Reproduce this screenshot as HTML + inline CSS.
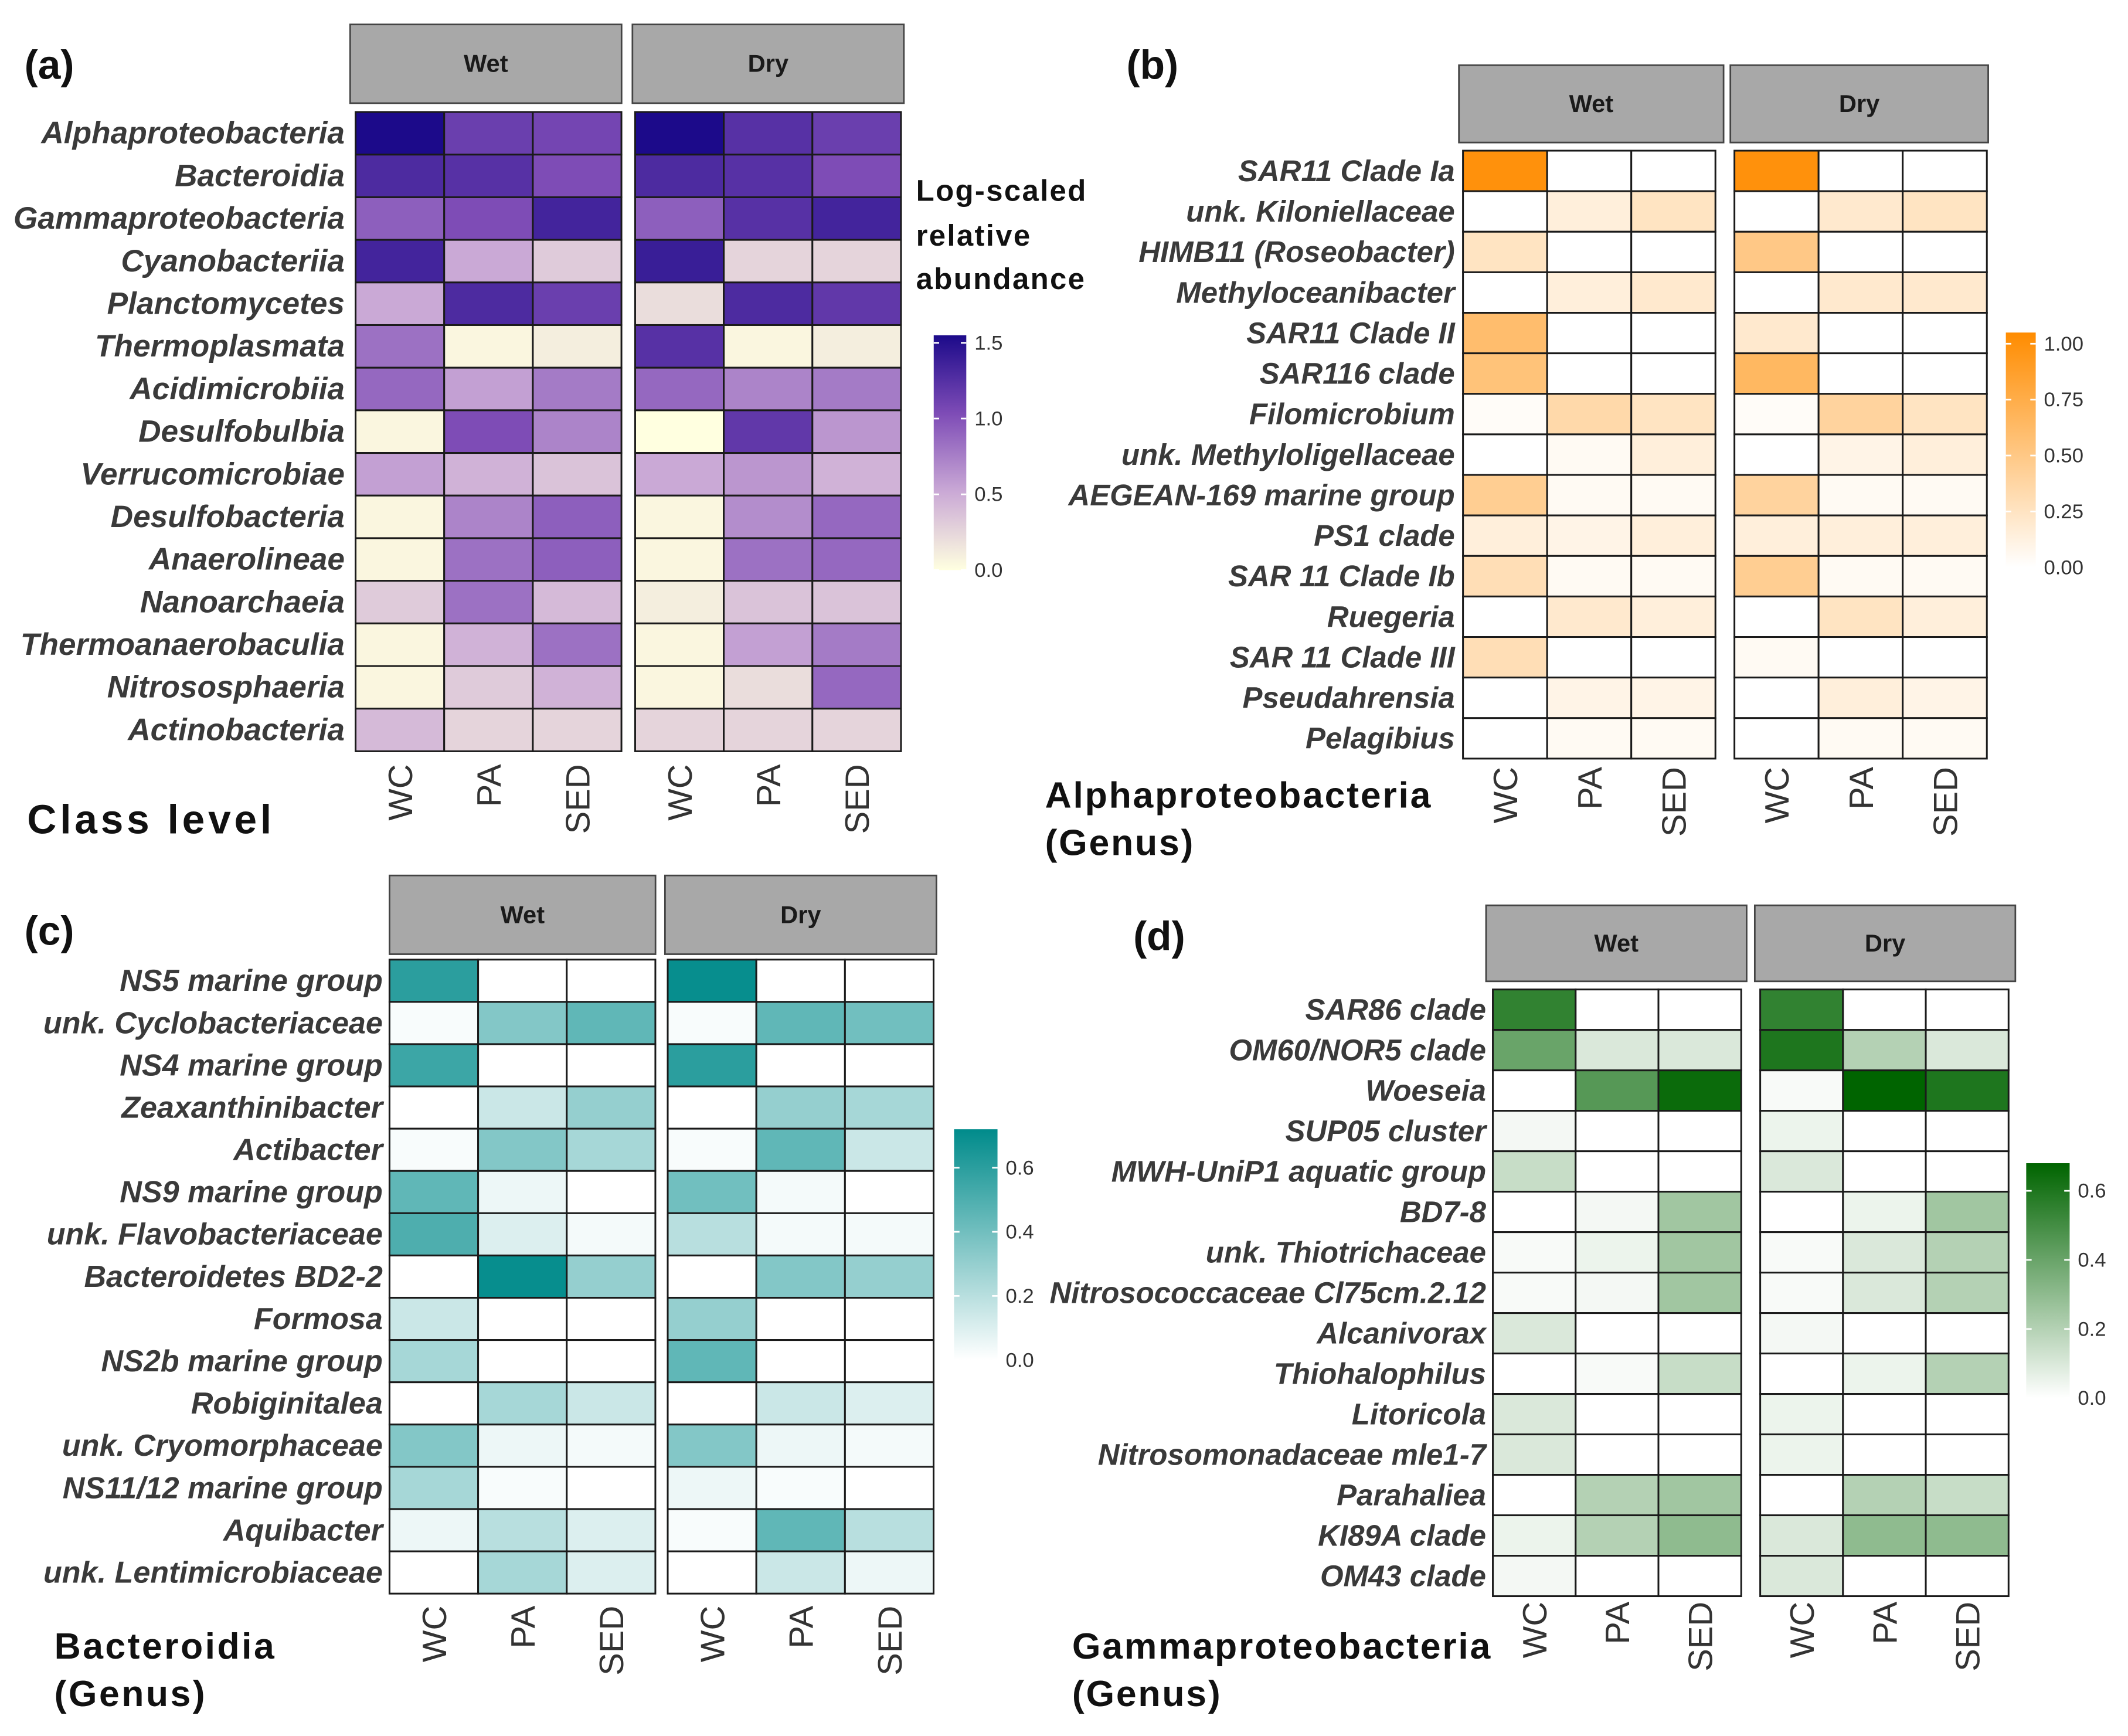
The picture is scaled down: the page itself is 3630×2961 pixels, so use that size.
<!DOCTYPE html>
<html><head><meta charset="utf-8"><style>
html,body{margin:0;padding:0;background:#fff}
svg{display:block}
text{font-family:"Liberation Sans",Arial,sans-serif}
</style></head><body>
<svg id="chart" xmlns="http://www.w3.org/2000/svg" width="3630" height="2961" viewBox="0 0 1568 1279">
<rect width="1568" height="1279" fill="#fff"/>
<defs>
<linearGradient id="gA" x1="0" y1="1" x2="0" y2="0"><stop offset="0" stop-color="#ffffe0"/><stop offset="0.33" stop-color="#cbaad6"/><stop offset="0.67" stop-color="#7d4bb6"/><stop offset="1" stop-color="#1c0a8a"/></linearGradient>
<linearGradient id="gB" x1="0" y1="1" x2="0" y2="0"><stop offset="0" stop-color="#ffffff"/><stop offset="1" stop-color="#ff8c00"/></linearGradient>
<linearGradient id="gC" x1="0" y1="1" x2="0" y2="0"><stop offset="0" stop-color="#ffffff"/><stop offset="1" stop-color="#008b8b"/></linearGradient>
<linearGradient id="gD" x1="0" y1="1" x2="0" y2="0"><stop offset="0" stop-color="#ffffff"/><stop offset="1" stop-color="#006400"/></linearGradient>
</defs>
<g id="root"></g>
</svg>
<script>
const cols = ["WC","PA","SED"];
const facets = ["Wet","Dry"];
const rowsA = ["Alphaproteobacteria","Bacteroidia","Gammaproteobacteria","Cyanobacteriia","Planctomycetes","Thermoplasmata","Acidimicrobiia","Desulfobulbia","Verrucomicrobiae","Desulfobacteria","Anaerolineae","Nanoarchaeia","Thermoanaerobaculia","Nitrososphaeria","Actinobacteria"];
const valsA = [[1.5,1.1,1.05,1.5,1.2,1.1],[1.25,1.2,1.0,1.25,1.2,1.0],[0.9,1.0,1.3,0.9,1.2,1.3],[1.3,0.5,0.3,1.35,0.25,0.25],[0.5,1.25,1.1,0.2,1.25,1.15],[0.8,0.05,0.1,1.2,0.05,0.1],[0.85,0.55,0.75,0.85,0.7,0.75],[0.05,1.0,0.7,0.0,1.15,0.6],[0.55,0.45,0.35,0.5,0.6,0.45],[0.05,0.7,0.9,0.05,0.65,0.85],[0.05,0.8,0.9,0.05,0.8,0.85],[0.3,0.8,0.4,0.1,0.35,0.35],[0.05,0.45,0.8,0.05,0.55,0.75],[0.05,0.3,0.45,0.05,0.2,0.85],[0.4,0.25,0.25,0.25,0.25,0.25]];
const ticksA = [0,0.5,1.0,1.5];
const tickLabelsA = ["0.0","0.5","1.0","1.5"];
const rowsB = ["SAR11 Clade Ia","unk. Kiloniellaceae","HIMB11 (Roseobacter)","Methyloceanibacter","SAR11 Clade II","SAR116 clade","Filomicrobium","unk. Methyloligellaceae","AEGEAN-169 marine group","PS1 clade","SAR 11 Clade Ib","Ruegeria","SAR 11 Clade III","Pseudahrensia","Pelagibius"];
const valsB = [[1.0,0,0,1.0,0,0],[0,0.15,0.25,0,0.2,0.25],[0.25,0,0,0.5,0,0],[0,0.15,0.2,0,0.2,0.2],[0.6,0,0,0.2,0,0],[0.55,0,0,0.65,0,0],[0.03,0.35,0.25,0.03,0.4,0.25],[0,0.05,0.15,0,0.1,0.15],[0.45,0.05,0.05,0.4,0.05,0.05],[0.15,0.1,0.15,0.15,0.15,0.15],[0.3,0.05,0.05,0.45,0.05,0.05],[0,0.2,0.15,0,0.25,0.15],[0.3,0,0,0.05,0,0],[0,0.1,0.1,0,0.15,0.1],[0,0.05,0.05,0,0.05,0.05]];
const ticksB = [0,0.25,0.5,0.75,1.0];
const tickLabelsB = ["0.00","0.25","0.50","0.75","1.00"];
const rowsC = ["NS5 marine group","unk. Cyclobacteriaceae","NS4 marine group","Zeaxanthinibacter","Actibacter","NS9 marine group","unk. Flavobacteriaceae","Bacteroidetes BD2-2","Formosa","NS2b marine group","Robiginitalea","unk. Cryomorphaceae","NS11/12 marine group","Aquibacter","unk. Lentimicrobiaceae"];
const valsC = [[0.6,0,0,0.7,0,0],[0.02,0.35,0.45,0.02,0.45,0.4],[0.55,0,0,0.6,0,0],[0,0.15,0.3,0,0.3,0.25],[0.02,0.35,0.25,0.02,0.45,0.15],[0.45,0.05,0,0.4,0.03,0],[0.5,0.1,0.03,0.2,0.03,0.03],[0,0.7,0.3,0,0.35,0.3],[0.15,0,0,0.3,0,0],[0.25,0,0,0.45,0,0],[0,0.25,0.15,0,0.15,0.1],[0.35,0.05,0.03,0.35,0.05,0.03],[0.25,0.02,0,0.05,0.02,0],[0.05,0.2,0.1,0.02,0.45,0.2],[0,0.25,0.1,0,0.15,0.05]];
const ticksC = [0,0.2,0.4,0.6];
const tickLabelsC = ["0.0","0.2","0.4","0.6"];
const rowsD = ["SAR86 clade","OM60/NOR5 clade","Woeseia","SUP05 cluster","MWH-UniP1 aquatic group","BD7-8","unk. Thiotrichaceae","Nitrosococcaceae Cl75cm.2.12","Alcanivorax","Thiohalophilus","Litoricola","Nitrosomonadaceae mle1-7","Parahaliea","KI89A clade","OM43 clade"];
const valsD = [[0.55,0,0,0.55,0,0],[0.4,0.1,0.1,0.6,0.2,0.1],[0,0.45,0.65,0.02,0.75,0.6],[0.03,0,0,0.05,0,0],[0.15,0,0,0.1,0,0],[0,0.03,0.25,0,0.05,0.25],[0.02,0.05,0.25,0.02,0.1,0.2],[0.02,0.03,0.25,0.02,0.1,0.2],[0.1,0,0,0.03,0,0],[0,0.02,0.15,0,0.05,0.2],[0.1,0,0,0.05,0,0],[0.1,0,0,0.05,0,0],[0,0.2,0.25,0,0.2,0.15],[0.05,0.2,0.3,0.1,0.3,0.3],[0.03,0,0,0.1,0,0]];
const ticksD = [0,0.2,0.4,0.6];
const tickLabelsD = ["0.0","0.2","0.4","0.6"];

const NS="http://www.w3.org/2000/svg";
const root=document.getElementById('root');
function mk(tag,attrs,parent){const e=document.createElementNS(NS,tag);for(const k in attrs)e.setAttribute(k,attrs[k]);(parent||root).appendChild(e);return e;}
function hex(h){return [parseInt(h.slice(1,3),16),parseInt(h.slice(3,5),16),parseInt(h.slice(5,7),16)];}
function ramp(stops,t){t=Math.max(0,Math.min(1,t));for(let i=1;i<stops.length;i++){if(t<=stops[i][0]){const a=stops[i-1],b=stops[i];const f=(t-a[0])/(b[0]-a[0]);const c1=hex(a[1]),c2=hex(b[1]);return 'rgb('+c1.map((v,j)=>Math.round(v+(c2[j]-v)*f)).join(',')+')';}}return stops[stops.length-1][1];}

const panels=[
 {id:'a',rows:rowsA,vals:valsA,max:1.5,ticks:ticksA,tl:tickLabelsA,stops:[[0,'#ffffe0'],[0.33,'#cbaad6'],[0.67,'#7d4bb6'],[1,'#1c0a8a']],grad:'gA',
  x0:[262,468],cw:65.3,top:82.5,rh:31.4,strip:[[258,18,200,58],[466,18,200,58]],labR:254,xlabY:563,fs:23,
  cb:[688,247,24,173],lab:'(a)',labXY:[18,58]},
 {id:'b',rows:rowsB,vals:valsB,max:1.05,ticks:ticksB,tl:tickLabelsB,stops:[[0,'#ffffff'],[1,'#ff8c00']],grad:'gB',
  x0:[1078,1278],cw:62,top:111,rh:29.86,strip:[[1075,48,195,57],[1275,48,190,57]],labR:1072,xlabY:565,fs:22,
  cb:[1478,245,22,173],lab:'(b)',labXY:[830,58]},
 {id:'c',rows:rowsC,vals:valsC,max:0.72,ticks:ticksC,tl:tickLabelsC,stops:[[0,'#ffffff'],[1,'#008b8b']],grad:'gC',
  x0:[287,492],cw:65.3,top:707,rh:31.14,strip:[[287,645,196,58],[490,645,200,58]],labR:282,xlabY:1183,fs:22.5,
  cb:[703,832,32,170],lab:'(c)',labXY:[18,696]},
 {id:'d',rows:rowsD,vals:valsD,max:0.68,ticks:ticksD,tl:tickLabelsD,stops:[[0,'#ffffff'],[1,'#006400']],grad:'gD',
  x0:[1100,1297],cw:61,top:729,rh:29.8,strip:[[1095,667,192,56],[1293,667,192,56]],labR:1095,xlabY:1180,fs:22,
  cb:[1493,857,32,173],lab:'(d)',labXY:[835,700]}
];

panels.forEach(p=>{
 const g=mk('g',{});
 
 
 const pl=mk('text',{x:p.labXY[0],y:p.labXY[1],'font-size':30,'font-weight':'bold',fill:'#111'},g);
 pl.textContent=p.lab;
 
 
 facets.forEach((f,fi)=>{
  const s=p.strip[fi];
  const sr=mk('rect',{x:s[0],y:s[1],width:s[2],height:s[3],fill:'#a8a8a8',stroke:'#444','stroke-width':1.2},g);
  
  
  const st=mk('text',{x:s[0]+s[2]/2,y:s[1]+s[3]/2+6,'text-anchor':'middle','font-size':18,'font-weight':'bold',fill:'#1a1a1a'},g);
  st.textContent=f;
  
  
  cols.forEach((c,ci)=>{
   const cx=p.x0[fi]+ci*p.cw+p.cw/2;
   const xt=mk('text',{transform:'translate('+(cx+9)+','+p.xlabY+') rotate(-90)','text-anchor':'end','font-size':25,fill:'#333'},g);
   xt.textContent=c;
   
   
  });
 });
 p.rows.forEach((r,ri)=>{
  const y=p.top+ri*p.rh;
  const rt=mk('text',{x:p.labR,y:y+p.rh/2+7.5,'text-anchor':'end','font-size':p.fs,'font-weight':'bold','font-style':'italic',fill:'#3a3a3a'},g);
  rt.textContent=r;
  
  
  p.vals[ri].forEach((v,k)=>{
   const fi=Math.floor(k/3),ci=k%3;
   const x=p.x0[fi]+ci*p.cw;
   const cell=mk('rect',{x:x,y:y,width:p.cw,height:p.rh,fill:ramp(p.stops,v/p.max),stroke:'#1a1a1a','stroke-width':1.3},g);
   
   
  });
 });
 const b=p.cb;
 const cb=mk('rect',{x:b[0],y:b[1],width:b[2],height:b[3],fill:'url(#'+p.grad+')'},g);
 
 
 const scale=b[3]/ (p.id==='a'?1.55:(p.id==='b'?1.05:p.max));
 p.ticks.forEach((t,ti)=>{
  const yy=b[1]+b[3]-t*scale;
  mk('line',{x1:b[0],x2:b[0]+4,y1:yy,y2:yy,stroke:'#fff','stroke-width':1.2},g);
  mk('line',{x1:b[0]+b[2]-4,x2:b[0]+b[2],y1:yy,y2:yy,stroke:'#fff','stroke-width':1.2},g);
  const tt=mk('text',{x:b[0]+b[2]+6,y:yy+5,'font-size':15,fill:'#333'},g);
  tt.textContent=p.tl[ti];
  
  
 });
});

function txt(x,y,s,size,name,extra){const t=mk('text',Object.assign({x:x,y:y,'font-size':size,fill:'#111'},extra||{}));t.textContent=s;return t;}
txt(675,148,'Log-scaled',22,'legend-title',{'font-weight':'bold','letter-spacing':'1'});
txt(675,181,'relative',22,'legend-title',{'font-weight':'bold','letter-spacing':'1'});
txt(675,213,'abundance',22,'legend-title',{'font-weight':'bold','letter-spacing':'1'});
txt(20,614,'Class level',30,'panel-title-a',{'font-weight':'bold','letter-spacing':'2.5'});
txt(770,595,'Alphaproteobacteria',27,'panel-title-b',{'font-weight':'bold','letter-spacing':'1.2'});
txt(770,630,'(Genus)',27,'panel-title-b-sub',{'font-weight':'bold','letter-spacing':'1.2'});
txt(40,1222,'Bacteroidia',27,'panel-title-c',{'font-weight':'bold','letter-spacing':'1.5'});
txt(40,1257,'(Genus)',27,'panel-title-c-sub',{'font-weight':'bold','letter-spacing':'1.5'});
txt(790,1222,'Gammaproteobacteria',27,'panel-title-d',{'font-weight':'bold','letter-spacing':'1.2'});
txt(790,1257,'(Genus)',27,'panel-title-d-sub',{'font-weight':'bold','letter-spacing':'1.2'});
</script>
</body></html>
